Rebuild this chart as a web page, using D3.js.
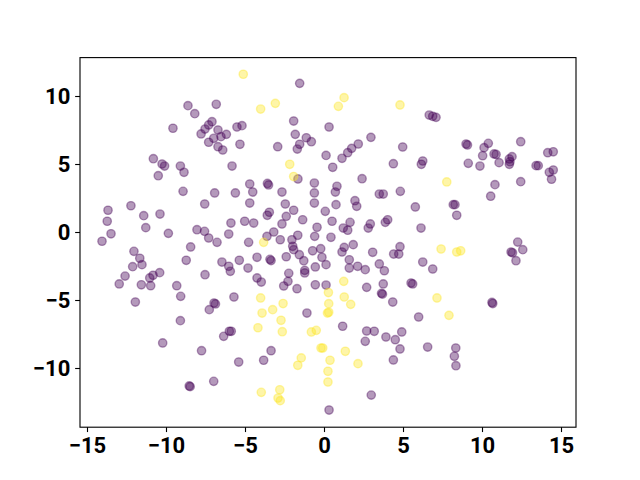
<!DOCTYPE html>
<html>
<head>
<meta charset="utf-8">
<script src="https://cdn.jsdelivr.net/npm/d3@7"></script>
<style>
  body { margin: 0; background: #fff; }
  .tick text { font-family: Roboto, "DejaVu Sans", sans-serif; font-weight: bold; font-size: 22px; fill: #000; }
</style>
</head>
<body>
<div class="visualisation"></div>
<script>
// Values, in data units
const xPurple = [-8.61, -8.18, -9.56, -7.78, -7.53, -7.30, -7.09, -10.80, -10.25, -10.09, -9.09, -8.86, -10.49,
    -1.54, -6.82, -1.92, -6.71, -6.98, -7.30, -6.52, -6.18, -6.71, -6.41, -5.51, -5.19, -5.32, -5.82,
    -2.93, -1.82, -1.12, -0.80, -1.54, -1.69, 0.13, 0.32, -1.65, 6.66, 6.88, 7.09, 2.97, 2.17, 1.75, 1.50,
    1.14, 0.55, 4.98, 4.39, 6.25, 6.16, 2.41, 8.99, 9.08, 10.13, 10.40, 12.45, 10.04, 10.76, 10.89, 9.13,
    9.87, 11.08, 11.73, 11.77, 11.90, 11.73, 14.16, 14.51, 13.42, 13.56, 14.26, 14.51, 14.40, 12.45,
    -8.92, -7.55, -12.22, -13.67, -11.41, -10.38, -13.72, -11.28, -13.48, -14.05, -9.85, -8.04, -7.56,
    -8.44, -12.03, -11.66, -11.52, -12.11, -8.72, -12.59, -12.96, -11.56, -10.82, -11.03, -10.97, -10.40,
    -9.32, -9.07, -7.53, -11.94, -4.70, -3.58, -3.51, -0.61, -6.92, -5.61, -4.51, -2.66, -0.61, -4.70,
    -2.45, -0.61, 0.08, -1.92, -3.46, -3.59, -2.39, -2.66, -1.35, -5.89, -5.02, -4.45, -0.44, -3.18,
    -7.30, -6.77, -6.03, -4.77, -3.61, -2.77, -2.03, -1.66, -0.59, -1.98, -1.92, -0.72, -0.21, -1.56,
    -1.28, -0.13, 0.13, -4.24, -3.42, -3.35, -2.39, -6.46, -6.03, -5.93, -5.36, -4.81, -2.23, -1.22,
    -1.22, -0.55, -4.24, -3.97, -2.28, -2.55, -1.71, -0.55, 0.13, -5.70, -6.96, -6.87, 0.82, 0.72, 3.50,
    3.75, 4.83, 0.76, 1.96, 2.07, 5.78, 0.51, 1.65, 1.22, 1.50, 2.93, 2.80, 4.03, 3.88, 6.14, 0.44, 1.85,
    1.28, 1.14, 3.08, 4.81, 4.41, 4.73, 1.60, 1.60, 2.13, 2.61, 3.50, 3.82, 6.25, 6.88, 2.70, 3.75, 3.64,
    3.70, 5.51, 5.61, 4.35, 10.82, 10.55, 8.18, 8.29, 8.40, 12.26, 12.58, 11.84, 11.93, 12.15, 10.63,
    10.68, -9.09, -10.21, -7.75, -8.53, -8.47, -7.26, -1.08, -5.99, -5.87, -6.35, -3.35, -3.82, -5.40,
    -6.98, 0.32, 5.99, 1.18, 2.70, 3.18, 2.61, 3.92, 4.51, 4.92, 4.81, 6.56, 4.39, 2.99, 8.34, 8.25, 8.35];
const yPurple = [9.29, 8.70, 7.63, 7.21, 7.57, 7.87, 8.11, 5.39, 5.00, 4.85, 4.85, 4.39, 4.14,
    10.93, 9.39, 8.16, 7.50, 6.89, 6.60, 7.01, 7.18, 6.27, 6.03, 7.72, 7.82, 6.45, 4.85,
    6.27, 7.18, 6.93, 6.64, 6.45, 6.10, 5.63, 7.72, 3.90, 8.60, 8.51, 8.43, 6.96, 6.47, 6.15, 5.83,
    5.42, 4.76, 6.25, 5.02, 5.22, 4.98, 3.92, 6.47, 6.40, 6.20, 6.52, 6.64, 5.61, 5.74, 5.70, 5.05,
    4.85, 5.10, 5.37, 5.17, 5.54, 4.98, 5.83, 5.90, 4.88, 4.88, 4.39, 4.56, 3.88, 3.70,
    2.99, 2.06, 1.93, 1.60, 1.20, 1.32, 0.79, 0.32, -0.13, -0.68, -0.10, 0.17, 0.05,
    -1.10, -1.42, -1.93, -2.40, -2.55, -2.08, -3.24, -3.82, -3.88, -3.18, -3.38, -3.95, -2.99,
    -3.95, -4.73, -3.14, -5.15, 3.53, 3.57, 3.46, 3.60, 2.87, 2.87, 2.94, 2.94, 2.87, 2.13,
    2.06, 2.13, 1.52, 1.60, 1.45, 1.23, 1.15, 0.59, 0.90, 0.66, 0.79, 0.66, 0.35, 0.00,
    -0.44, -0.76, -0.15, -0.76, -0.32, -0.57, -0.57, -0.24, -0.32, -1.05, -1.30, -1.38, -1.23, -1.67,
    -2.11, -1.86, -2.40, -1.86, -2.01, -2.10, -1.82, -2.21, -2.52, -2.89, -2.08, -2.65, -3.04, -2.82,
    -3.01, -2.57, -3.38, -3.68, -3.63, -3.97, -4.17, -3.88, -3.90, -4.78, -5.22, -5.29, 3.36, 2.94, 2.79,
    2.79, 2.99, 2.01, 2.30, 1.89, 1.84, 0.79, 0.71, 0.29, 0.13, 0.59, 0.29, 0.90, 0.71, 0.29, -0.39, -0.93,
    -1.13, -1.47, -1.49, -1.08, -1.62, -1.62, -2.04, -2.65, -2.52, -2.77, -2.35, -2.85, -2.21, -2.72, -4.07, -3.82, -4.51,
    -4.57, -3.75, -3.82, -5.15, 3.48, 2.63, 2.01, 2.01, 1.23, -0.74, -1.30, -1.47, -1.53, -2.11, -5.18,
    -5.26, -6.52, -8.16, -8.73, -11.32, -11.37, -5.71, -5.96, -7.30, -7.30, -7.67, -8.73, -9.43, -9.56,
    -10.98, -13.09, -6.25, -6.93, -7.28, -7.30, -8.04, -7.72, -7.92, -7.35, -8.60, -8.46, -9.41, -11.99, -8.53, -9.14, -9.83];

const xYellow = [-5.11, -4.01, -3.08, -2.17, -1.92, 1.27, 0.91, 4.81, 7.77, -3.82, -4.01, -2.59, 0.28,
    7.41, 1.25, 1.28, 1.69, 7.15, 8.40, 8.65, -3.92, -3.25, -4.18, -2.72, -2.64, -0.80, -0.49, -0.19,
    -0.08, -1.44, -1.66, 0.25, 0.25, -3.97, -2.80, -2.91, -2.77, 0.30, 0.30, 0.22, 7.91, 1.35, 0.38, 2.15];
const yYellow = [11.60, 9.04, 9.46, 4.98, 4.08, 9.88, 9.24, 9.34, 3.68, -0.76, -4.85, -5.26, -4.45,
    -1.25, -3.63, -4.78, -5.32, -4.85, -1.47, -1.38, -5.96, -5.71, -7.04, -6.49, -7.33, -7.35, -7.23, -8.53,
    -8.53, -9.26, -9.80, -10.24, -11.03, -11.79, -11.60, -12.21, -12.40, -5.27, -5.90, -5.96, -6.13, -8.77, -9.43, -9.68];

const xTicks = [-15, -10, -5, 0, 5, 10, 15];
const yTicks = [-10, -5, 0, 5, 10];

// Figure geometry (matplotlib default 6.4 x 4.8 in at 100 dpi)
const width = 640;
const height = 480;
const axLeft = 80, axRight = 576, axTop = 57.6, axBottom = 427.2;
const pt = 100 / 72;

const svg = d3.select(".visualisation")
    .append("svg")
    .attr("width", width)
    .attr("height", height)
    .attr("viewBox", `0 0 ${width} ${height}`)
    .style("display", "block");

const x = d3.scaleLinear().domain([-15.443, 15.949]).range([axLeft, axRight]);
const y = d3.scaleLinear().domain([-14.353, 12.824]).range([axBottom, axTop]);

const purple = xPurple.map((v, i) => ({ x: v, y: yPurple[i], c: "#440154" }));
const yellow = xYellow.map((v, i) => ({ x: v, y: yYellow[i], c: "#fde725" }));

svg.append("g")
    .selectAll("circle")
    .data(purple.concat(yellow))
    .enter()
    .append("circle")
    .attr("cx", d => x(d.x))
    .attr("cy", d => y(d.y))
    .attr("r", 3 * pt)
    .attr("fill", d => d.c)
    .attr("fill-opacity", 0.4)
    .attr("stroke", d => d.c)
    .attr("stroke-opacity", 0.4)
    .attr("stroke-width", 1 * pt);

// axes
const xAxis = d3.axisBottom(x)
    .tickValues(xTicks)
    .tickSize(3.5 * pt)
    .tickPadding(3.5 * pt);
const yAxis = d3.axisLeft(y)
    .tickValues(yTicks)
    .tickSize(3.5 * pt)
    .tickPadding(3.5 * pt);

const gx = svg.append("g")
    .attr("transform", `translate(0,${axBottom})`)
    .call(xAxis);
const gy = svg.append("g")
    .attr("transform", `translate(${axLeft},0)`)
    .call(yAxis);

[gx, gy].forEach(g => {
    g.select(".domain").remove();
    g.selectAll(".tick line").attr("stroke", "#000").attr("stroke-width", 0.8 * pt);
    g.attr("font-family", null).attr("font-size", null);
});

// spines
svg.append("rect")
    .attr("x", axLeft)
    .attr("y", axTop)
    .attr("width", axRight - axLeft)
    .attr("height", axBottom - axTop)
    .attr("fill", "none")
    .attr("stroke", "#000")
    .attr("stroke-width", 0.8 * pt);
</script>
</body>
</html>
